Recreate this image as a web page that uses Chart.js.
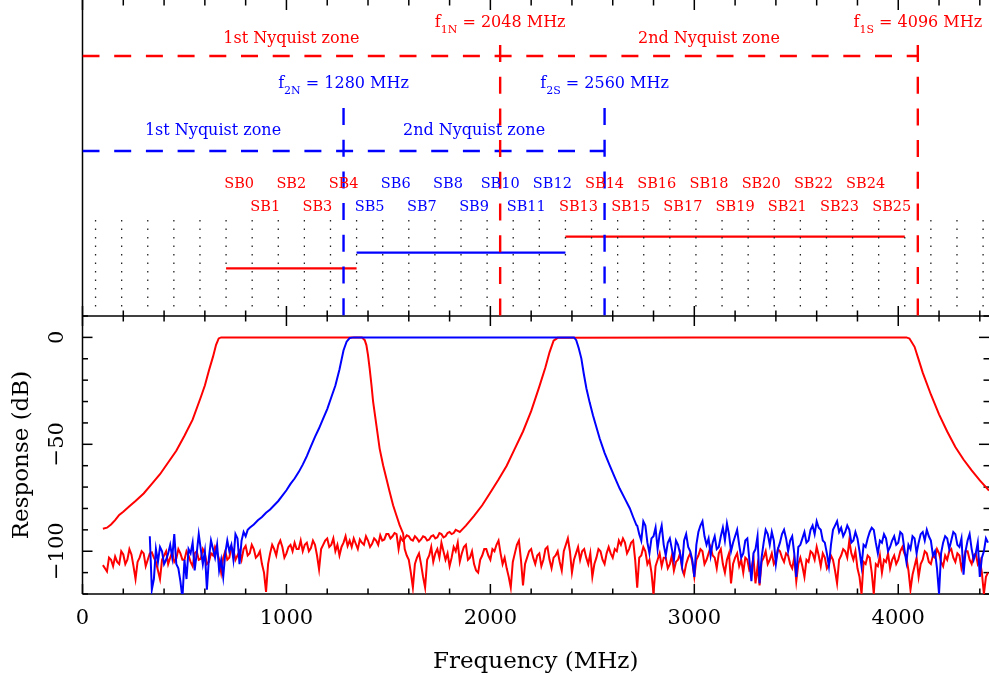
<!DOCTYPE html>
<html lang="en">
<head>
  <meta charset="UTF-8">
  <title>Sub-band filter response</title>
  <script src="https://cdn.jsdelivr.net/npm/chart.js"></script>
  <style>
    body { margin: 0; background: #fff; }
    #chart { display: block; }
  </style>
</head>
<body>
  <canvas id="chart" width="989" height="681"></canvas>

  <script>
    // ---------- data ----------
    const xTickLabels = [0, 1000, 2000, 3000, 4000];
    const yTickLabels = [0, -50, -100];

    // Nyquist / sampling frequencies (MHz): f1N, f1S (red) and f2N, f2S (blue)
    const nyquistRed = [2048, 4096];
    const nyquistRedNames = ['1N', '1S'];
    const nyquistBlue = [1280, 2560];
    const nyquistBlueNames = ['2N', '2S'];
    const zoneNames = ['1st Nyquist zone', '2nd Nyquist zone'];

    // sub-band boundaries (dotted) and sub-band label centres
    const sbEdges = [64, 192, 320, 448, 576, 704, 832, 960, 1088, 1216, 1344, 1472, 1600, 1728, 1856,
      1984, 2112, 2240, 2368, 2496, 2624, 2752, 2880, 3008, 3136, 3264, 3392, 3520, 3648, 3776,
      3904, 4032, 4160, 4288, 4416];
    const sbCentres = [768, 896, 1024, 1152, 1280, 1408, 1536, 1664, 1792, 1920, 2048, 2176, 2304,
      2432, 2560, 2688, 2816, 2944, 3072, 3200, 3328, 3456, 3584, 3712, 3840, 3968];

    // filters: first sub-band and pass band edges (MHz)
    const filterFirstSB = [0, 5, 13];
    const filterLo = [704, 1344, 2368];
    const filterHi = [1344, 2368, 4032];

    // measured responses (dB); noise floors are read every 10 MHz
    const floorStep = 10;

    // red filter SB0-SB4
    const red1Freq = [100, 120, 140, 160, 180, 200, 230, 260, 300, 340, 380, 420, 460, 500, 540, 580,
      600, 620, 640, 655, 668, 680, 1000, 1370, 1384, 1392, 1400, 1408, 1417, 1425, 1441, 1457,
      1474, 1490, 1506, 1523, 1539, 1555, 1572];
    const red1Resp = [-89.5, -89, -87.5, -85.5, -83, -81.5, -79, -76.5, -73, -68.5, -64, -58.5, -53,
      -46, -38.5, -28, -22.5, -15.5, -9, -3.5, -0.5, 0, 0, 0, -1.3, -3.6, -8.3, -14.5, -22.3, -30.1,
      -41, -52, -59.8, -66, -72.2, -78.5, -83.2, -87.8, -91.7];
    // its noise floor from 1580 MHz
    const red1Floor = [
      -99, -102, -104, -110, -117, -106, -103, -101, -106, -112, -117, -104, -102, -98, -105, -101, -99, -103, -96, -100,
      -104, -101, -107, -103, -98, -100, -96, -105, -101, -98, -97, -104, -103, -100, -106, -109, -110, -104, -102, -99,
      -99, -102, -104, -99, -100, -97, -95, -101, -106, -103, -108, -112, -117, -105, -101, -97, -95, -104, -116, -106,
      -103, -100, -99, -103, -106, -102, -101, -107, -104, -99, -98, -104, -108, -103, -102, -100, -105, -109, -100, -97,
      -94, -100, -110, -104, -101, -98, -104, -100, -99, -103, -106, -101, -112, -106, -103, -99, -100, -104, -106, -101,
      -98, -101, -103, -99, -100, -95, -97, -94, -96, -101, -99, -96, -95, -104, -117, -103, -102, -98, -100, -106,
      -104, -110, -120, -107, -104, -101, -107, -103, -103, -108, -106, -102, -109, -105, -104, -101, -108, -111, -106, -103,
      -101, -105, -112, -104, -102, -99, -100, -106, -104, -101, -98, -102, -103, -108, -101, -99, -106, -110, -104, -101,
      -115, -106, -103, -101, -107, -104, -110, -103, -104, -109, -108, -103, -115, -107, -116, -105, -103, -100, -106, -104,
      -101, -106, -104, -99, -100, -103, -105, -101, -102, -106, -108, -103, -114, -106, -103, -107, -112, -104, -105, -100,
      -101, -104, -98, -102, -107, -101, -103, -108, -106, -102, -104, -109, -115, -104, -102, -99, -100, -103, -95, -101,
      -104, -100, -108, -112, -120, -105, -106, -102, -103, -110, -120, -106, -107, -102, -110, -104, -105, -101, -108, -104,
      -102, -106, -104, -100, -98, -101, -103, -109, -118, -111, -107, -103, -112, -106, -104, -100, -101, -105, -106, -102,
      -103, -99, -101, -105, -107, -102, -104, -100, -99, -103, -105, -101, -102, -108, -104, -100, -100, -104, -106, -102,
      -101, -106, -104, -110, -120, -112, -110];

    // red filter SB13-SB25: floor from 100 MHz, then the band
    const red2Floor = [
      -106.5, -108, -109.5, -103, -104, -107, -102.5, -105, -106, -100, -101.5, -106, -104, -99, -101.5, -107, -113, -105, -103, -100,
      -101, -107, -104, -101, -100.5, -103, -105, -109, -113, -104, -102, -100, -106, -103, -100.5, -105, -103.5, -99, -101, -104,
      -104, -100, -102, -105, -107, -101, -100, -104, -103.5, -99, -101, -106, -105, -101, -102, -98, -100.5, -104, -110, -103,
      -100, -104, -103, -98, -99.5, -104, -102, -100, -104, -99, -97.5, -102, -101, -97, -99, -103, -102, -100, -106, -110,
      -119, -106, -101, -97, -99, -102, -97, -95, -98, -103, -101, -98, -97, -100, -96, -99, -99, -95, -100, -97,
      -96, -100, -98.5, -95, -97, -102, -108.5, -99, -97, -95, -94, -98, -97, -94, -100, -97, -102, -98, -96, -93,
      -97.5, -95, -98, -94, -96.5, -99, -94.5, -96, -97, -93, -95, -98, -96.5, -94, -95, -97, -92.5, -95, -94.5, -92,
      -92, -94, -93, -91.5, -92, -99, -93.5, -95, -94, -92.5, -93, -94.5, -95, -93, -94, -95.5, -94.5, -93, -93.5, -95,
      -94.5, -93, -92.5, -94, -93.5, -91.5, -92, -93.5, -93, -91.5, -91, -92, -91.5, -90, -90.5, -91, -90];
    const red2Freq = [1880, 1920, 1960, 2000, 2040, 2080, 2120, 2160, 2200, 2240, 2270, 2290, 2310,
      2330, 3000, 4040, 4055, 4080, 4100, 4120, 4160, 4200, 4240, 4280, 4320, 4360, 4400, 4445];
    const red2Resp = [-88, -83.5, -78.5, -72.5, -66.5, -60, -52, -44, -34.5, -23, -14, -7, -1.5,
      -0.2, 0, 0, -0.5, -4.4, -10.4, -16.5, -26.7, -36, -44, -51.3, -57.1, -62.2, -66.9, -71.6];

    // blue filter SB5-SB12: floor from 330 MHz, band, floor from 2720 MHz
    const blueFloorLow = [-93, -118, -113, -99, -105, -98, -100, -106, -104, -101, -97, -103, -92,
      -106, -108, -114, -122, -104, -113, -99, -101, -96, -109, -101, -92, -99, -106, -100, -118,
      -103, -95, -99, -103, -97, -109, -104, -112, -101, -95, -100, -97, -104, -92, -94, -106, -95,
      -91, -93, -90];
    const blueFreq = [820, 840, 860, 880, 900, 920, 940, 960, 980, 1000, 1020, 1040, 1060, 1080, 1100,
      1120, 1140, 1160, 1180, 1200, 1220, 1240, 1260, 1280, 1295, 1310, 1330, 2000, 2410, 2421, 2433,
      2446, 2458, 2471, 2487, 2503, 2520, 2536, 2560, 2585, 2610, 2634, 2660, 2684, 2700, 2716];
    const blueResp = [-89, -87.5, -85.5, -84, -82, -80.5, -78.5, -76.5, -74, -71.5, -68.5, -66, -63,
      -59.5, -55.5, -51, -46.5, -42.5, -38, -33.5, -28, -22.5, -15, -6, -2, -0.3, 0, 0, 0, -1.3, -5,
      -9.8, -17, -23.9, -30.5, -36.4, -42, -47.3, -54, -59.8, -65.5, -70.7, -75.5, -80, -84, -87.8];
    const blueFloorHigh = [
      -88, -92, -95, -86, -88, -96, -101, -94, -93, -89, -99, -92, -88, -97, -102, -96, -94, -99, -104, -95,
      -97, -101, -107, -95, -92, -98, -100, -104, -112, -97, -91, -88, -86, -93, -97, -94, -102, -96, -93, -99,
      -98, -93, -89, -95, -87, -92, -100, -96, -93, -90, -97, -103, -101, -95, -94, -104, -114, -101, -99, -93,
      -115, -103, -96, -90, -92, -97, -91, -95, -106, -99, -96, -92, -90, -94, -100, -95, -93, -101, -112, -98,
      -97, -94, -91, -96, -95, -90, -88, -92, -86, -89, -90, -95, -96, -101, -107, -97, -90, -88, -86, -91,
      -89, -93, -91, -88, -90, -96, -95, -91, -94, -100, -107, -97, -98, -94, -91, -89, -90, -96, -101, -95,
      -96, -92, -94, -100, -98, -95, -93, -97, -96, -91, -92, -99, -105, -97, -99, -93, -94, -101, -96, -92,
      -91, -95, -90, -93, -95, -102, -100, -108, -120, -101, -96, -93, -94, -99, -95, -91, -92, -97, -98, -94,
      -111, -100, -95, -92, -99, -104, -101, -96, -112, -103, -100, -94, -96];

    // ---------- style / layout ----------
    const RED = '#ff0000';
    const BLUE = '#0000ff';
    const SERIF = '"DejaVu Serif", serif';
    const filterColors = [RED, BLUE, RED];
    // heights in the upper panel, pixels above its floor
    const LV = {
      redText: 293, redZone: 277, redDash: 260, redTop: 271,
      blueText: 232, blueZone: 185.5, blueDash: 165, blueTop: 208,
      sbEven: 132, sbOdd: 109, dotTop: 96, dotBottom: 4,
      filter: [47.7, 63.3, 79.3]
    };

    function pts(fs, vs) { return fs.map((f, i) => ({ x: f, y: vs[i] })); }
    function gridPts(start, vs) { return vs.map((v, i) => ({ x: start + i * floorStep, y: v })); }
    function segs(list) {
      const out = [];
      list.forEach(s => out.push({ x: s[0], y: s[1] }, { x: s[2], y: s[3] }, { x: s[2], y: null }));
      return out;
    }

    const curve = (label, data, color) => ({
      label, data, yAxisID: 'y', borderColor: color, borderWidth: 2, pointRadius: 0, fill: false
    });
    const mark = (label, data, color, width, dash) => ({
      label, data, yAxisID: 'yz', borderColor: color, borderWidth: width, borderDash: dash || [],
      pointRadius: 0, fill: false
    });

    const datasets = [
      curve('SB5-SB12', [...gridPts(330, blueFloorLow), ...pts(blueFreq, blueResp),
        ...gridPts(2720, blueFloorHigh)], BLUE),
      curve('SB0-SB4', [...pts(red1Freq, red1Resp), ...gridPts(1580, red1Floor)], RED),
      curve('SB13-SB25', [...gridPts(100, red2Floor), ...pts(red2Freq, red2Resp)], RED),
      mark('sub-band edges', segs(sbEdges.map(e => [e, LV.dotTop, e, LV.dotBottom])), '#222', 1.3, [1.5, 7]),
      mark('red zones', segs([[0, LV.redDash, nyquistRed[1], LV.redDash],
        ...nyquistRed.map(f => [f, LV.redTop, f, 0])]), RED, 2.4, [17, 14.7]),
      mark('blue zones', segs([[0, LV.blueDash, nyquistBlue[1], LV.blueDash],
        ...nyquistBlue.map(f => [f, LV.blueTop, f, 0])]), BLUE, 2.4, [17, 14.7])
    ];
    filterLo.forEach((lo, i) => {
      datasets.push(mark('filter ' + i, segs([[lo, LV.filter[i], filterHi[i], LV.filter[i]]]),
        filterColors[i], 2.2));
    });

    function sbColor(k) {
      let c = filterColors[0];
      filterFirstSB.forEach((first, i) => { if (k >= first) c = filterColors[i]; });
      return c;
    }

    function fLabel(ctx, cx, cy, sub, value, color) {
      const big = '16px ' + SERIF, small = '11px ' + SERIF;
      const rest = ' = ' + value + ' MHz';
      ctx.font = big;
      const wf = ctx.measureText('f').width, wr = ctx.measureText(rest).width;
      ctx.font = small;
      const ws = ctx.measureText(sub).width;
      let x = cx - (wf + ws + wr) / 2;
      ctx.fillStyle = color;
      ctx.textAlign = 'left';
      ctx.textBaseline = 'middle';
      ctx.font = big; ctx.fillText('f', x, cy); x += wf;
      ctx.font = small; ctx.fillText(sub, x, cy + 7); x += ws;
      ctx.font = big; ctx.fillText(rest, x, cy);
    }

    const panelsPlugin = {
      id: 'panels',
      beforeDatasetsDraw(chart) {
        const { ctx, chartArea: a, scales: { x, y, yz } } = chart;
        ctx.save();
        ctx.strokeStyle = '#000';
        ctx.lineWidth = 1.5;
        const ln = (x0, y0, x1, y1) => { ctx.beginPath(); ctx.moveTo(x0, y0); ctx.lineTo(x1, y1); ctx.stroke(); };
        ln(a.left, a.top, a.left, a.bottom);
        ln(a.left, yz.bottom, a.right, yz.bottom);
        ln(a.left, y.bottom, a.right, y.bottom);
        for (let f = 0; f <= x.max; f += 200) {
          const px = x.getPixelForValue(f);
          const len = f % 1000 === 0 ? 10 : 5.5;
          ln(px, yz.top, px, yz.top + len);
          ln(px, yz.bottom, px, yz.bottom - len);
          ln(px, y.top, px, y.top + len);
          ln(px, y.bottom, px, y.bottom - len);
        }
        for (let v = y.min; v <= y.max; v += 10) {
          const py = y.getPixelForValue(v);
          const len = v % 50 === 0 ? 10 : 5.5;
          ln(a.left, py, a.left + len, py);
          ln(a.right, py, a.right - len, py);
        }
        ctx.restore();
      },
      afterDatasetsDraw(chart) {
        const { ctx, scales: { x, y, yz } } = chart;
        const px = f => x.getPixelForValue(f);
        const py = v => yz.getPixelForValue(v);
        ctx.save();

        // y tick labels, rotated like the axis title
        ctx.fillStyle = '#000';
        ctx.font = '21px ' + SERIF;
        ctx.textAlign = 'center';
        ctx.textBaseline = 'middle';
        yTickLabels.forEach(v => {
          ctx.save();
          ctx.translate(58, y.getPixelForValue(v));
          ctx.rotate(-Math.PI / 2);
          ctx.fillText(v === 0 ? '0' : '\u2212' + Math.abs(v), 0, 0);
          ctx.restore();
        });

        // Nyquist frequencies
        nyquistRed.forEach((f, i) => fLabel(ctx, px(f), py(LV.redText), nyquistRedNames[i], f, RED));
        nyquistBlue.forEach((f, i) => fLabel(ctx, px(f), py(LV.blueText), nyquistBlueNames[i], f, BLUE));

        // Nyquist zones
        ctx.font = '16px ' + SERIF;
        ctx.textAlign = 'center';
        ctx.textBaseline = 'middle';
        const zoneMid = edges => [edges[0] / 2, (edges[0] + edges[1]) / 2];
        ctx.fillStyle = RED;
        zoneMid(nyquistRed).forEach((f, i) => ctx.fillText(zoneNames[i], px(f), py(LV.redZone)));
        ctx.fillStyle = BLUE;
        zoneMid(nyquistBlue).forEach((f, i) => ctx.fillText(zoneNames[i], px(f), py(LV.blueZone)));

        // sub-band names
        ctx.font = '14.5px ' + SERIF;
        sbCentres.forEach((f, k) => {
          ctx.fillStyle = sbColor(k);
          ctx.fillText('SB' + k, px(f), py(k % 2 === 0 ? LV.sbEven : LV.sbOdd));
        });
        ctx.restore();
      }
    };

    new Chart(document.getElementById('chart'), {
      type: 'line',
      data: { datasets },
      options: {
        responsive: false,
        animation: false,
        layout: { padding: 0 },
        plugins: { legend: { display: false }, tooltip: { enabled: false } },
        scales: {
          x: {
            type: 'linear', position: 'bottom', min: 0, max: 4445,
            grid: { display: false, drawTicks: false },
            border: { display: false },
            ticks: { color: '#000', font: { family: SERIF, size: 21 }, padding: 11.5, maxRotation: 0,
              callback: v => String(v) },
            afterBuildTicks: s => { s.ticks = xTickLabels.map(v => ({ value: v })); },
            afterFit: s => { s.height = 87; },
            title: { display: true, text: 'Frequency (MHz)', color: '#000',
              font: { family: SERIF, size: 23 }, padding: { top: 0, bottom: 5.2 } }
          },
          // the layout stacks these two from the bottom up: response panel first
          y: {
            type: 'linear', position: 'left', stack: 'panels', stackWeight: 278, min: -120, max: 10,
            grid: { display: false, drawTicks: false },
            border: { display: false },
            ticks: { display: false },
            afterFit: s => { s.width = 82.5; },
            title: { display: true, text: 'Response (dB)', color: '#000',
              font: { family: SERIF, size: 23 }, padding: { top: 8.2, bottom: 0 } }
          },
          yz: {
            type: 'linear', position: 'left', stack: 'panels', stackWeight: 316, min: 0, max: 316,
            grid: { display: false, drawTicks: false },
            border: { display: false },
            ticks: { display: false },
            afterFit: s => { s.width = 82.5; }
          }
        }
      },
      plugins: [panelsPlugin]
    });
  </script>
</body>
</html>
